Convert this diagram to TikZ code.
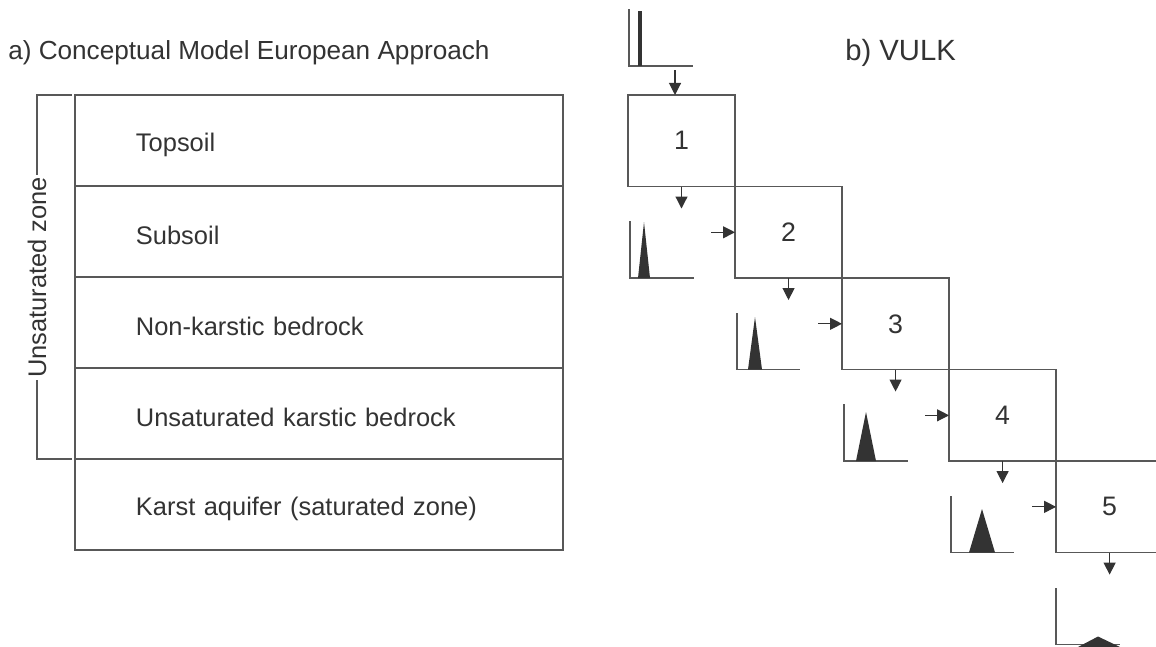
\documentclass[tikz,border=0pt]{standalone}
\usepackage{fontspec}
\setmainfont{Liberation Sans}
\usepackage{xcolor}
\usepackage{tikz}
\usetikzlibrary{arrows.meta,positioning}
\definecolor{linegray}{RGB}{88,88,88}
\definecolor{inkgray}{RGB}{51,51,51}
\newcommand{\layertext}[1]{\raisebox{-0.1cm}[\height][\depth]{#1}}

\begin{document}
\begin{tikzpicture}[
    x=0.025cm, y=-0.025cm,
    layer/.style={rectangle, draw=linegray, line width=1.1pt, outer sep=0pt, text width=9.15cm, inner xsep=1.525cm, inner ysep=0pt, minimum height=2.275cm, align=left, text=inkgray, font=\fontsize{18.1}{21}\selectfont},
    stage/.style={rectangle, draw=linegray, line width=1.1pt, outer sep=0pt, minimum width=2.675cm, minimum height=2.2875cm, inner sep=0pt, text=inkgray, font=\fontsize{19}{22}\selectfont},
    title/.style={anchor=base west, inner sep=0pt, text=inkgray, font=\fontsize{18.6}{22}\selectfont},
    frame/.style={draw=linegray, line width=1.1pt},
    axis/.style={draw=linegray, line width=0.9pt},
    peak/.style={fill=inkgray},
    arr/.style={draw=inkgray, line width=0.8pt, -{Triangle[length=0.3cm, width=0.3cm]}}
]
\useasboundingbox (0,0) rectangle (1156,646);
\clip (0,0) rectangle (1156,646);

% Titles
\node[title] (ta) at (8,59) {a) Conceptual Model European Approach};
\node[title, font=\fontsize{20.8}{24}\selectfont] (tb) at (845,60) {b) VULK};

% Layers of the conceptual model
\node[layer] (topsoil) at (319,140.5) {\layertext{Topsoil}};
\node[layer, below=0pt of topsoil] (subsoil) {\layertext{Subsoil}};
\node[layer, below=0pt of subsoil] (nonkarst) {\layertext{Non-karstic bedrock}};
\node[layer, below=0pt of nonkarst] (unsat) {\layertext{Unsaturated karstic bedrock}};
\node[layer, below=0pt of unsat] (aquifer) {\layertext{Karst aquifer (saturated zone)}};

% Unsaturated zone bracket
\node[rotate=90, inner sep=1pt, text=inkgray, font=\fontsize{18.1}{21}\selectfont] (uzone) at (37,277.5) {Unsaturated zone};
\draw[frame] ([xshift=-0.075cm]topsoil.north west) -| (uzone.east);
\draw[frame] ([xshift=-0.075cm]unsat.south west) -| (uzone.west);

% VULK boxes
\node[stage] (b1) at (681.5,140.75) {1};
\node[stage, below right=0pt of b1] (b2) {2};
\node[stage, below right=0pt of b2] (b3) {3};
\node[stage, below right=0pt of b3] (b4) {4};
\node[stage, below right=0pt of b4] (b5) {5};

% Breakthrough curves
\draw[axis] (629,9) |- (693,66);
\draw[inkgray, line width=2.6pt] (640,11) -- (640,66);
\draw[axis] (630,221) |- (694,278);
\fill[peak] (638,278) -- (644,222) -- (650,278) -- cycle;
\draw[axis] (737,313) |- (800,369.5);
\fill[peak] (748,369.5) -- (755,317) -- (762,369.5) -- cycle;
\draw[axis] (844,404) |- (908,461);
\fill[peak] (856,461) -- (866,412) -- (876,461) -- cycle;
\draw[axis] (951,496) |- (1014,552.5);
\fill[peak] (969,552.5) -- (982,509) -- (995,552.5) -- cycle;
\draw[axis] (1056,588) |- (1120,644.5);
\fill[peak] (1078,647) -- (1098,636.5) -- (1120,647) -- cycle;

% Arrows
\coordinate (in1) at (675,70);
\draw[arr] (in1) -- (in1 |- b1.north);
\coordinate (d1) at ([yshift=-0.55cm]b1.south);
\coordinate (d2) at ([yshift=-0.55cm]b2.south);
\coordinate (d3) at ([yshift=-0.55cm]b3.south);
\coordinate (d4) at ([yshift=-0.55cm]b4.south);
\coordinate (d5) at ([yshift=-0.55cm]b5.south);
\draw[arr] (b1.south) -- (d1);
\draw[arr] (b2.south) -- (d2);
\draw[arr] (b3.south) -- (d3);
\draw[arr] (b4.south) -- (d4);
\draw[arr] (b5.south) -- (d5);
\coordinate (s2) at ([xshift=-0.6cm]b2.west);
\coordinate (s3) at ([xshift=-0.6cm]b3.west);
\coordinate (s4) at ([xshift=-0.6cm]b4.west);
\coordinate (s5) at ([xshift=-0.6cm]b5.west);
\draw[arr] (s2) -- (b2.west);
\draw[arr] (s3) -- (b3.west);
\draw[arr] (s4) -- (b4.west);
\draw[arr] (s5) -- (b5.west);

\end{tikzpicture}
\end{document}
